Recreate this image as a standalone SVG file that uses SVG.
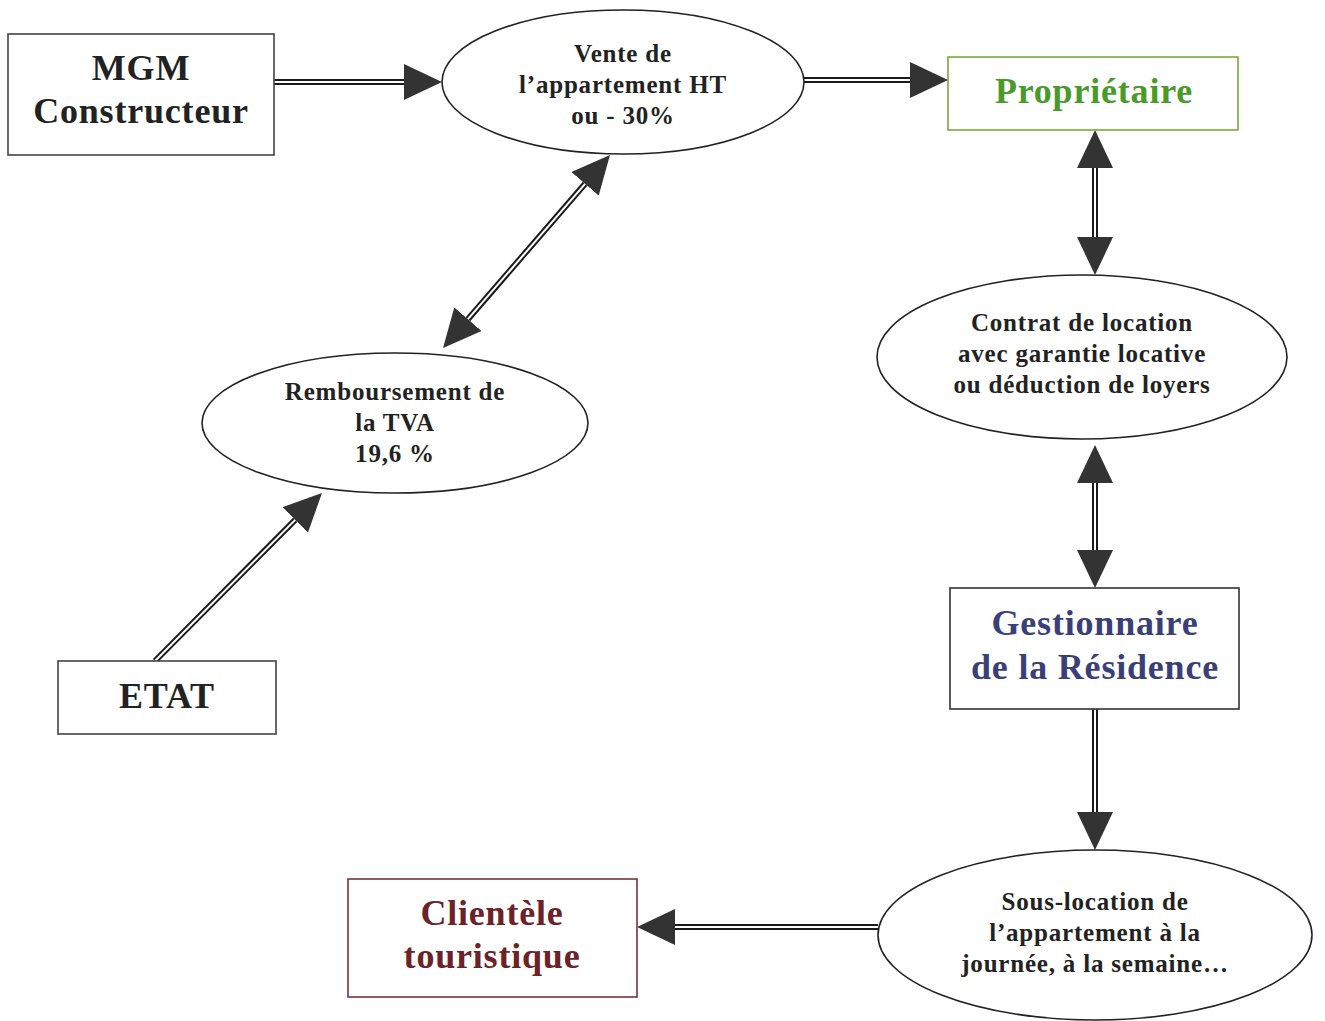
<svg xmlns="http://www.w3.org/2000/svg" width="1325" height="1021" viewBox="0 0 1325 1021">
<style>
.box{fill:#fff;stroke:#444;stroke-width:1.6}
.ell{fill:#fff;stroke:#222;stroke-width:1.6}
.big{font-family:"Liberation Serif",serif;font-weight:bold;font-size:36px;letter-spacing:0.8px;text-anchor:middle;fill:#222}
.sm{font-family:"Liberation Serif",serif;font-weight:bold;font-size:25px;letter-spacing:0.8px;text-anchor:middle;fill:#222}
.outer{fill:none;stroke:#1a1a1a;stroke-width:6}
.inner{fill:none;stroke:#fff;stroke-width:2}
</style>
<defs>
<marker id="ah" markerUnits="userSpaceOnUse" markerWidth="38" markerHeight="36" viewBox="0 0 38 36" refX="0" refY="18" orient="auto-start-reverse">
<path d="M0,0 L38,18 L0,36 z" fill="#333"/>
</marker>
</defs>
<rect width="1325" height="1021" fill="#fff"/>
<g id="connectors">
<path class="outer" d="M274,82 L404,82" marker-end="url(#ah)"/>
<path class="inner" d="M274,82 L404,82"/>
<path class="outer" d="M804,80 L910,80" marker-end="url(#ah)"/>
<path class="inner" d="M804,80 L910,80"/>
<path class="outer" d="M1095,168 L1095,237" marker-start="url(#ah)" marker-end="url(#ah)"/>
<path class="inner" d="M1095,168 L1095,237"/>
<path class="outer" d="M1095,483 L1095,550" marker-start="url(#ah)" marker-end="url(#ah)"/>
<path class="inner" d="M1095,483 L1095,550"/>
<path class="outer" d="M1095,709 L1095,812" marker-end="url(#ah)"/>
<path class="inner" d="M1095,709 L1095,812"/>
<path class="outer" d="M878,927 L675,927" marker-end="url(#ah)"/>
<path class="inner" d="M878,927 L675,927"/>
<path class="outer" d="M585.1,183.8 L467.9,319.2" marker-start="url(#ah)" marker-end="url(#ah)"/>
<path class="inner" d="M585.1,183.8 L467.9,319.2"/>
<path class="outer" d="M155,661 L295.2,519.9" marker-end="url(#ah)"/>
<path class="inner" d="M155,661 L295.2,519.9"/>
</g>
<g id="mgm">
<rect class="box" x="8" y="34" width="266" height="121"/>
<text class="big" x="141" y="80">MGM</text>
<text class="big" x="141" y="123">Constructeur</text>
</g>
<g id="vente">
<ellipse class="ell" cx="623" cy="82" rx="181" ry="72"/>
<text class="sm" x="623" y="62">Vente de</text>
<text class="sm" x="623" y="93">l’appartement HT</text>
<text class="sm" x="623" y="124">ou - 30%</text>
</g>
<g id="proprietaire">
<rect class="box" x="948" y="57" width="290" height="73" style="stroke:#7aa840"/>
<text class="big" x="1094" y="103" style="fill:#4a9a2a">Propriétaire</text>
</g>
<g id="contrat">
<ellipse class="ell" cx="1082" cy="357" rx="205" ry="82"/>
<text class="sm" x="1082" y="331">Contrat de location</text>
<text class="sm" x="1082" y="362">avec garantie locative</text>
<text class="sm" x="1082" y="393">ou déduction de loyers</text>
</g>
<g id="remboursement">
<ellipse class="ell" cx="395" cy="423" rx="193" ry="70"/>
<text class="sm" x="395" y="400">Remboursement de</text>
<text class="sm" x="395" y="431">la TVA</text>
<text class="sm" x="395" y="462">19,6 %</text>
</g>
<g id="etat">
<rect class="box" x="58" y="661" width="218" height="73"/>
<text class="big" x="167" y="708">ETAT</text>
</g>
<g id="gestionnaire">
<rect class="box" x="950" y="588" width="289" height="121" style="stroke:#333"/>
<text class="big" x="1095" y="635" style="fill:#3a3f78">Gestionnaire</text>
<text class="big" x="1095" y="679" style="fill:#3a3f78">de la Résidence</text>
</g>
<g id="souslocation">
<ellipse class="ell" cx="1095" cy="935" rx="217" ry="85"/>
<text class="sm" x="1095" y="910">Sous-location de</text>
<text class="sm" x="1095" y="941">l’appartement à la</text>
<text class="sm" x="1095" y="972">journée, à la semaine…</text>
</g>
<g id="clientele">
<rect class="box" x="348" y="879" width="289" height="118" style="stroke:#7a3040"/>
<text class="big" x="492" y="925" style="fill:#6b2228">Clientèle</text>
<text class="big" x="492" y="968" style="fill:#6b2228">touristique</text>
</g>
</svg>
